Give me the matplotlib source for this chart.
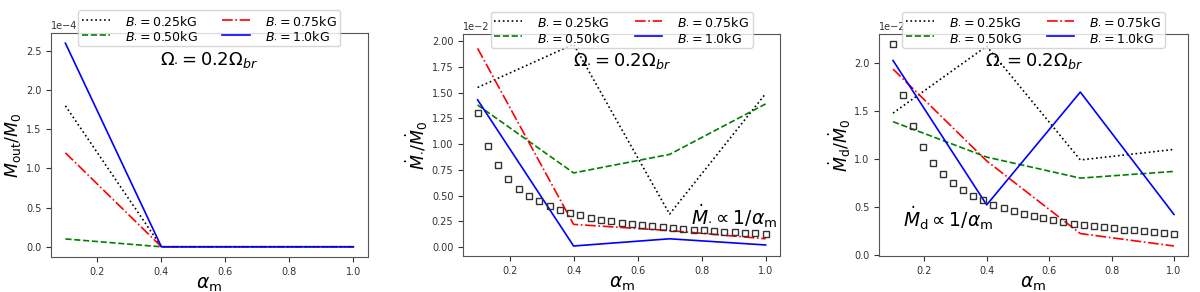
import numpy as np
import matplotlib
matplotlib.use('Agg')
import matplotlib.pyplot as plt

# alpha_m grid of the simulations
alpha = [0.1, 0.4, 0.7, 1.0]
labels = [r'$B_{\cdot}=0.25$kG', r'$B_{\cdot}=0.50$kG', r'$B_{\cdot}=0.75$kG', r'$B_{\cdot}=1.0$kG']
colors = ['k', 'g', 'r', 'b']
styles = [':', '--', '-.', '-']

# outflow rate, units of 1e-4
mout = [[1.8, 0.0, 0.0, 0.0],
        [0.1, 0.0, 0.0, 0.0],
        [1.2, 0.0, 0.0, 0.0],
        [2.6, 0.0, 0.0, 0.0]]
# accretion rate onto star, units of 1e-2
mstar = [[1.55, 1.97, 0.32, 1.49],
         [1.38, 0.72, 0.90, 1.39],
         [1.93, 0.22, 0.16, 0.08],
         [1.43, 0.01, 0.08, 0.02]]
# disc accretion rate, units of 1e-2
mdisc = [[1.48, 2.18, 0.99, 1.10],
         [1.39, 1.02, 0.80, 0.87],
         [1.94, 0.98, 0.22, 0.09],
         [2.03, 0.52, 1.70, 0.42]]

# reference points (squares)
a_ref = [0.1, 0.132, 0.164, 0.196, 0.229, 0.261, 0.293, 0.325, 0.357, 0.389,
         0.421, 0.454, 0.486, 0.518, 0.55, 0.582, 0.614, 0.646, 0.679, 0.711,
         0.743, 0.775, 0.807, 0.839, 0.871, 0.904, 0.936, 0.968, 1.0]
mstar_ref = [1.30, 0.985, 0.793, 0.663, 0.568, 0.498, 0.444, 0.40, 0.364, 0.334,
             0.309, 0.286, 0.267, 0.251, 0.236, 0.223, 0.212, 0.201, 0.191, 0.183,
             0.175, 0.168, 0.161, 0.155, 0.149, 0.144, 0.139, 0.134, 0.130]
mdisc_ref = [2.20, 1.667, 1.341, 1.122, 0.961, 0.843, 0.751, 0.677, 0.616, 0.566,
             0.523, 0.485, 0.453, 0.425, 0.40, 0.378, 0.358, 0.341, 0.324, 0.309,
             0.296, 0.284, 0.273, 0.262, 0.253, 0.243, 0.235, 0.227, 0.220]

fig = plt.figure(figsize=(12, 2.92), dpi=100)
ax1 = fig.add_axes([0.0425, 0.12, 0.264, 0.767])
ax2 = fig.add_axes([0.386, 0.123, 0.264, 0.76])
ax3 = fig.add_axes([0.7325, 0.123, 0.2575, 0.76])

panels = [(ax1, mout, 1e-4, r'$\dot M_{\rm out}/\dot M_0$'),
          (ax2, mstar, 1e-2, r'$\dot M_{\cdot}/\dot M_0$'),
          (ax3, mdisc, 1e-2, r'$\dot M_{\rm d}/\dot M_0$')]

for ax, data, scale, ylab in panels:
    for i in range(4):
        ax.plot(alpha, np.asarray(data[i]) * scale, color=colors[i], ls=styles[i],
                lw=1.2, label=labels[i])
    ax.ticklabel_format(axis='y', style='sci', scilimits=(0, 0))
    ax.yaxis.get_offset_text().set_fontsize(7)
    ax.tick_params(labelsize=7, colors='#333333')
    for s in ax.spines.values():
        s.set_edgecolor('#555555')
    ax.set_xlabel(r'$\alpha_{\rm m}$', fontsize=13.5, labelpad=-1)
    ax.set_ylabel(ylab, fontsize=12.5, labelpad=1)
    ax.text(0.5, 0.88, r'$\Omega_{\cdot}=0.2\Omega_{br}$', transform=ax.transAxes,
            ha='center', va='center', fontsize=13)
    ax.legend(loc='upper center', bbox_to_anchor=(0.5, 1.13), ncol=2, fontsize=9,
              handlelength=2.2, handletextpad=1.2, borderpad=0.3, labelspacing=0.2,
              columnspacing=2.0)

ax2.plot(a_ref, np.asarray(mstar_ref) * 1e-2, 's', mfc='none', mec='#333333', ms=5)
ax3.plot(a_ref, np.asarray(mdisc_ref) * 1e-2, 's', mfc='none', mec='#333333', ms=5)

ax2.text(0.72, 0.18, r'$\dot M_{\cdot}\propto 1/\alpha_{\rm m}$', transform=ax2.transAxes,
         ha='left', va='center', fontsize=13.5)
ax3.text(0.078, 0.17, r'$\dot M_{\rm d}\propto 1/\alpha_{\rm m}$', transform=ax3.transAxes,
         ha='left', va='center', fontsize=13.5)

plt.savefig('out.png')
